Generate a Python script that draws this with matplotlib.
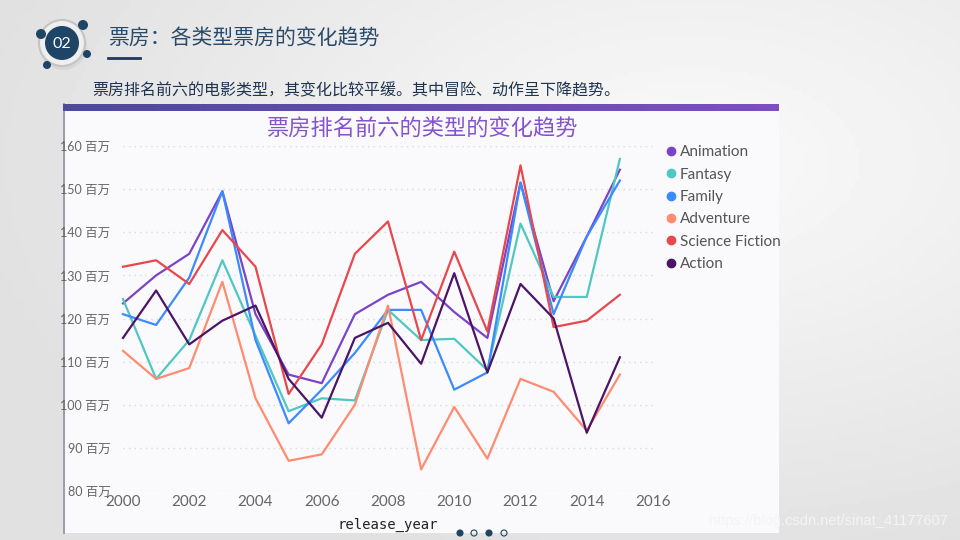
import numpy as np
import matplotlib
matplotlib.use('Agg')
import matplotlib.pyplot as plt
from matplotlib.patches import Circle, Rectangle

plt.rcParams['font.family'] = ['Lato', 'Noto Sans CJK SC', 'DejaVu Sans']

# Data (box office in millions)
years = list(range(2000, 2016))
genres = ['Animation', 'Fantasy', 'Family', 'Adventure', 'Science Fiction', 'Action']
colors = ['#7B44C6', '#4FC7C2', '#3A8BFF', '#FF8C70', '#E8474C', '#4B1466']

animation = [123.5, 130, 135, 149.5, 121, 107, 105, 121, 125.5, 128.5, 121.5, 115.5, 151.5, 124, 139, 154.5]
fantasy = [124.5, 106, 115, 133.5, 116, 98.5, 101.5, 101, 122, 115, 115.3, 108, 142, 125, 125, 157]
family = [121, 118.5, 129.5, 149.5, 115, 95.7, 103.5, 112, 122, 122, 103.5, 107.5, 151.5, 121, 139, 152]
adventure = [112.5, 106, 108.5, 128.5, 101.5, 87, 88.5, 100, 123, 85, 99.5, 87.5, 106, 103, 94, 107]
scifi = [132, 133.5, 128, 140.5, 132, 102.5, 114, 135, 142.5, 115, 135.5, 117, 155.5, 118, 119.5, 125.5]
action = [115.5, 126.5, 114, 119.5, 123, 106, 97, 115.5, 119, 109.5, 130.5, 107.5, 128, 120, 93.5, 111]
series = [animation, fantasy, family, adventure, scifi, action]

yticks = [80, 90, 100, 110, 120, 130, 140, 150, 160]
xticks = [2000, 2002, 2004, 2006, 2008, 2010, 2012, 2014, 2016]

W, H = 960, 540
fig = plt.figure(figsize=(9.6, 5.4), dpi=100)

# background slide (pixel coordinates)
bg = fig.add_axes([0, 0, 1, 1])
bg.axis('off')
gx, gy = np.meshgrid(np.linspace(0, 1, 200), np.linspace(0, 1, 120))
grad = 0.88 + 0.10 * np.clip(1 - np.hypot(gx - 0.72, gy - 0.3) * 1.3, 0, 1)
bg.imshow(grad, cmap='gray', vmin=0, vmax=1, extent=[0, W, H, 0], aspect='auto', zorder=0)

# "02" badge
bg.add_patch(Circle((63, 46), 24, facecolor='#D0D0D0', edgecolor='none', alpha=0.6, zorder=2))
bg.add_patch(Circle((62, 43), 23, facecolor='#EFEFEF', edgecolor='#C4C4C4', lw=1.5, zorder=2))
bg.add_patch(Circle((62, 43), 17, facecolor='#1E4466', edgecolor='none', zorder=3))
for (cx, cy, r) in [(41, 34, 5), (83, 25, 5), (87, 54, 4), (47, 65, 4)]:
    bg.add_patch(Circle((cx, cy), r, facecolor='#1E4466', edgecolor='none', zorder=3))
bg.text(62, 44, '02', color='white', fontsize=11.5, ha='center', va='center', zorder=4)

bg.text(108, 38, '票房：各类型票房的变化趋势', color='#2A4A6A', fontsize=15,
        ha='left', va='center', family=['Noto Sans CJK SC', 'DejaVu Sans'])
bg.plot([108, 140], [58, 58], color='#1E3A5A', lw=2)
bg.text(92, 91, '票房排名前六的电影类型，其变化比较平缓。其中冒险、动作呈下降趋势。',
        color='#1E3450', fontsize=11.5, ha='left', va='center',
        family=['Noto Sans CJK SC', 'DejaVu Sans'])

# chart panel
bg.add_patch(Rectangle((63, 104), 716, 429, facecolor='#FAFAFC', edgecolor='none', zorder=1))
bg.plot([63.5, 63.5], [104, 533], color='#8A8A9A', lw=1.2, zorder=2)
bar = np.linspace(0, 1, 100).reshape(1, -1)
bg.imshow(bar, cmap=matplotlib.colors.LinearSegmentedColormap.from_list('b', ['#4E4A9C', '#7D4FC2']),
          extent=[63, 779, 111, 104], aspect='auto', zorder=2)
bg.set_xlim(0, W)
bg.set_ylim(H, 0)

bg.text(423, 128, '票房排名前六的类型的变化趋势', color='#8554CC', fontsize=16,
        ha='center', va='center', family=['Noto Sans CJK SC', 'DejaVu Sans'])

# page dots and watermark
for i, px in enumerate([460, 474, 489, 504]):
    bg.add_patch(Circle((px, 533), 3, facecolor='#1E4466' if i in (0, 2) else 'none',
                        edgecolor='#1E4466', lw=0.8, zorder=3))
bg.text(948, 521, 'https://blog.csdn.net/sinat_41177607', color='#F4F4F4', fontsize=10.5,
        ha='right', va='center', family=['Liberation Sans', 'DejaVu Sans'], zorder=5)

# main chart axes
left, right, top, bottom = 123, 653, 146, 491
ax = fig.add_axes([left / W, 1 - bottom / H, (right - left) / W, (bottom - top) / H])
ax.patch.set_alpha(0)
for s in ax.spines.values():
    s.set_visible(False)
for name, vals, c in zip(genres, series, colors):
    ax.plot(years, vals, color=c, lw=1.6, label=name, clip_on=False)
ax.set_xlim(2000, 2016)
ax.set_ylim(80, 160)
ax.set_yticks(yticks)
ax.set_yticklabels(['%d 百万' % v for v in yticks], family=['Lato', 'Noto Sans CJK SC'])
ax.set_xticks(xticks)
ax.tick_params(axis='y', length=0, labelsize=9, labelcolor='#666666', pad=9)
ax.tick_params(axis='x', length=0, labelsize=11, labelcolor='#666666', pad=3)
ax.grid(axis='y', color='#D8D8DE', ls=(0, (1, 3)), lw=1)
ax.set_xlabel('release_year', fontsize=10, color='#222222', labelpad=6,
              family=['DejaVu Sans Mono'])

handles = [plt.Line2D([], [], marker='o', ls='', color=c, markersize=6) for c in colors]
leg = fig.legend(handles, genres, loc='upper left', bbox_to_anchor=(657 / W, 1 - 139 / H),
                 frameon=False, fontsize=11, handletextpad=0.1, labelspacing=0.55,
                 handlelength=1.0, borderaxespad=0)
for t in leg.get_texts():
    t.set_color('#555555')

fig.savefig('out.png', dpi=100)
